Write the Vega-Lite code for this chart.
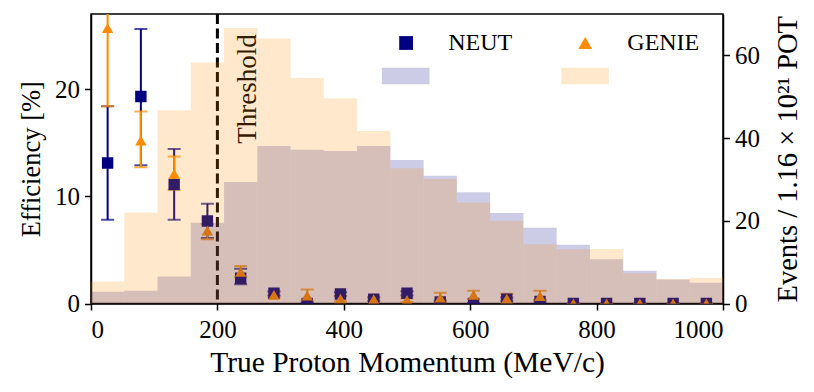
{
  "$schema": "https://vega.github.io/schema/vega-lite/v6.json",
  "width": 632,
  "height": 289.5,
  "autosize": {"type": "none"},
  "padding": {"left": 91, "top": 14, "right": 91, "bottom": 88.5},
  "background": "white",
  "config": {
    "font": "Liberation Serif",
    "view": {"stroke": "black", "strokeWidth": 1.5},
    "axis": {
      "grid": false,
      "domainColor": "black",
      "domainWidth": 1.5,
      "tickColor": "black",
      "tickWidth": 1.5,
      "tickSize": 6.5,
      "labelFont": "Liberation Serif",
      "labelFontSize": 25,
      "labelColor": "black",
      "titleFont": "Liberation Serif",
      "titleFontSize": 28,
      "titleFontWeight": "normal",
      "titleColor": "black"
    },
    "legend": {
      "labelFont": "Liberation Serif",
      "labelFontSize": 24,
      "labelColor": "black",
      "padding": 0
    }
  },
  "datasets": {
    "hist": [
      {"sample": "NEUT events", "lo": 0, "hi": 52.63, "events": 2.85},
      {"sample": "NEUT events", "lo": 52.63, "hi": 105.26, "events": 3.1},
      {"sample": "NEUT events", "lo": 105.26, "hi": 157.89, "events": 6.5},
      {"sample": "NEUT events", "lo": 157.89, "hi": 210.53, "events": 19.5},
      {"sample": "NEUT events", "lo": 210.53, "hi": 263.16, "events": 29.4},
      {"sample": "NEUT events", "lo": 263.16, "hi": 315.79, "events": 38.1},
      {"sample": "NEUT events", "lo": 315.79, "hi": 368.42, "events": 37.2},
      {"sample": "NEUT events", "lo": 368.42, "hi": 421.05, "events": 36.9},
      {"sample": "NEUT events", "lo": 421.05, "hi": 473.68, "events": 38.1},
      {"sample": "NEUT events", "lo": 473.68, "hi": 526.32, "events": 34.7},
      {"sample": "NEUT events", "lo": 526.32, "hi": 578.95, "events": 30.9},
      {"sample": "NEUT events", "lo": 578.95, "hi": 631.58, "events": 26.9},
      {"sample": "NEUT events", "lo": 631.58, "hi": 684.21, "events": 21.9},
      {"sample": "NEUT events", "lo": 684.21, "hi": 736.84, "events": 18.3},
      {"sample": "NEUT events", "lo": 736.84, "hi": 789.47, "events": 14.2},
      {"sample": "NEUT events", "lo": 789.47, "hi": 842.11, "events": 10.7},
      {"sample": "NEUT events", "lo": 842.11, "hi": 894.74, "events": 7.9},
      {"sample": "NEUT events", "lo": 894.74, "hi": 947.37, "events": 5.8},
      {"sample": "NEUT events", "lo": 947.37, "hi": 1000, "events": 5.0},
      {"sample": "GENIE events", "lo": 0, "hi": 52.63, "events": 5.3},
      {"sample": "GENIE events", "lo": 52.63, "hi": 105.26, "events": 22.0},
      {"sample": "GENIE events", "lo": 105.26, "hi": 157.89, "events": 46.7},
      {"sample": "GENIE events", "lo": 157.89, "hi": 210.53, "events": 58.3},
      {"sample": "GENIE events", "lo": 210.53, "hi": 263.16, "events": 66.6},
      {"sample": "GENIE events", "lo": 263.16, "hi": 315.79, "events": 64.1},
      {"sample": "GENIE events", "lo": 315.79, "hi": 368.42, "events": 54.6},
      {"sample": "GENIE events", "lo": 368.42, "hi": 421.05, "events": 49.6},
      {"sample": "GENIE events", "lo": 421.05, "hi": 473.68, "events": 41.7},
      {"sample": "GENIE events", "lo": 473.68, "hi": 526.32, "events": 32.7},
      {"sample": "GENIE events", "lo": 526.32, "hi": 578.95, "events": 30.1},
      {"sample": "GENIE events", "lo": 578.95, "hi": 631.58, "events": 24.4},
      {"sample": "GENIE events", "lo": 631.58, "hi": 684.21, "events": 20.0},
      {"sample": "GENIE events", "lo": 684.21, "hi": 736.84, "events": 14.3},
      {"sample": "GENIE events", "lo": 736.84, "hi": 789.47, "events": 13.1},
      {"sample": "GENIE events", "lo": 789.47, "hi": 842.11, "events": 13.2},
      {"sample": "GENIE events", "lo": 842.11, "hi": 894.74, "events": 7.3},
      {"sample": "GENIE events", "lo": 894.74, "hi": 947.37, "events": 5.9},
      {"sample": "GENIE events", "lo": 947.37, "hi": 1000, "events": 6.2}
    ],
    "eff": [
      {"model": "NEUT", "p": 26.3, "eff": 13.1, "lo": 7.8, "hi": 18.4},
      {"model": "NEUT", "p": 78.9, "eff": 19.3, "lo": 12.9, "hi": 25.6},
      {"model": "NEUT", "p": 131.6, "eff": 11.1, "lo": 7.8, "hi": 14.4},
      {"model": "NEUT", "p": 184.2, "eff": 7.7, "lo": 6.1, "hi": 9.3},
      {"model": "NEUT", "p": 236.8, "eff": 2.35, "lo": 1.8, "hi": 3.25},
      {"model": "NEUT", "p": 289.5, "eff": 0.95, "lo": 0.75, "hi": 1.15},
      {"model": "NEUT", "p": 342.1, "eff": 0.0, "lo": 0.0, "hi": 0.1},
      {"model": "NEUT", "p": 394.7, "eff": 0.88, "lo": 0.7, "hi": 1.05},
      {"model": "NEUT", "p": 447.4, "eff": 0.4, "lo": 0.25, "hi": 0.55},
      {"model": "NEUT", "p": 500.0, "eff": 0.95, "lo": 0.75, "hi": 1.15},
      {"model": "NEUT", "p": 552.6, "eff": 0.15, "lo": 0.05, "hi": 0.25},
      {"model": "NEUT", "p": 605.3, "eff": 0.0, "lo": 0.0, "hi": 0.0},
      {"model": "NEUT", "p": 657.9, "eff": 0.4, "lo": 0.25, "hi": 0.55},
      {"model": "NEUT", "p": 710.5, "eff": 0.2, "lo": 0.1, "hi": 0.3},
      {"model": "NEUT", "p": 763.2, "eff": 0.0, "lo": 0.0, "hi": 0.0},
      {"model": "NEUT", "p": 815.8, "eff": 0.0, "lo": 0.0, "hi": 0.0},
      {"model": "NEUT", "p": 868.4, "eff": 0.0, "lo": 0.0, "hi": 0.0},
      {"model": "NEUT", "p": 921.1, "eff": 0.0, "lo": 0.0, "hi": 0.0},
      {"model": "NEUT", "p": 973.7, "eff": 0.0, "lo": 0.0, "hi": 0.0},
      {"model": "GENIE", "p": 26.3, "eff": 25.7, "lo": 18.4, "hi": 33.0},
      {"model": "GENIE", "p": 78.9, "eff": 15.2, "lo": 12.7, "hi": 17.9},
      {"model": "GENIE", "p": 131.6, "eff": 12.1, "lo": 10.6, "hi": 13.7},
      {"model": "GENIE", "p": 184.2, "eff": 6.8, "lo": 6.0, "hi": 7.4},
      {"model": "GENIE", "p": 236.8, "eff": 2.95, "lo": 2.45, "hi": 3.5},
      {"model": "GENIE", "p": 289.5, "eff": 0.8, "lo": 0.55, "hi": 1.05},
      {"model": "GENIE", "p": 342.1, "eff": 0.75, "lo": 0.25, "hi": 1.3},
      {"model": "GENIE", "p": 394.7, "eff": 0.45, "lo": 0.2, "hi": 0.7},
      {"model": "GENIE", "p": 447.4, "eff": 0.4, "lo": 0.2, "hi": 0.6},
      {"model": "GENIE", "p": 500.0, "eff": 0.33, "lo": 0.15, "hi": 0.5},
      {"model": "GENIE", "p": 552.6, "eff": 0.55, "lo": 0.1, "hi": 1.0},
      {"model": "GENIE", "p": 605.3, "eff": 0.8, "lo": 0.4, "hi": 1.2},
      {"model": "GENIE", "p": 657.9, "eff": 0.45, "lo": 0.05, "hi": 0.9},
      {"model": "GENIE", "p": 710.5, "eff": 0.7, "lo": 0.25, "hi": 1.2},
      {"model": "GENIE", "p": 763.2, "eff": 0.0, "lo": 0.0, "hi": 0.0},
      {"model": "GENIE", "p": 815.8, "eff": 0.0, "lo": 0.0, "hi": 0.0},
      {"model": "GENIE", "p": 868.4, "eff": 0.0, "lo": 0.0, "hi": 0.0},
      {"model": "GENIE", "p": 921.1, "eff": 0.0, "lo": 0.0, "hi": 0.0},
      {"model": "GENIE", "p": 973.7, "eff": 0.0, "lo": 0.0, "hi": 0.0}
    ],
    "anno": [{"label": "Threshold", "p": 200}]
  },
  "layer": [
    {
      "layer": [
        {
          "data": {"name": "anno"},
          "mark": {"type": "rule", "color": "black", "strokeWidth": 3, "strokeDash": [10, 4.5]},
          "encoding": {
            "x": {
              "field": "p", "type": "quantitative",
              "scale": {"domain": [0, 1000], "nice": false},
              "axis": {"title": "True Proton Momentum (MeV/c)", "values": [0, 200, 400, 600, 800, 1000], "format": "d", "labelPadding": 7, "titlePadding": 6, "titleFontSize": 29.5}
            }
          }
        },
        {
          "data": {"name": "anno"},
          "mark": {"type": "text", "angle": 270, "align": "left", "baseline": "alphabetic", "fontSize": 27, "color": "black"},
          "encoding": {
            "x": {
              "datum": 260.5, "type": "quantitative",
              "scale": {"domain": [0, 1000], "nice": false},
              "axis": {"title": "True Proton Momentum (MeV/c)", "values": [0, 200, 400, 600, 800, 1000], "format": "d", "labelPadding": 7, "titlePadding": 6, "titleFontSize": 29.5}
            },
            "y": {
              "datum": 14.9, "type": "quantitative",
              "scale": {"domain": [0, 27], "nice": false},
              "axis": {"title": "Efficiency [%]", "values": [0, 10, 20], "labelPadding": 5, "titlePadding": 9, "titleFontSize": 26.5}
            },
            "text": {"field": "label"}
          }
        },
        {
          "data": {"name": "eff"},
          "encoding": {
            "x": {
              "field": "p", "type": "quantitative",
              "scale": {"domain": [0, 1000], "nice": false},
              "axis": {"title": "True Proton Momentum (MeV/c)", "values": [0, 200, 400, 600, 800, 1000], "format": "d", "labelPadding": 7, "titlePadding": 6, "titleFontSize": 29.5}
            },
            "y": {
              "field": "eff", "type": "quantitative",
              "scale": {"domain": [0, 27], "nice": false},
              "axis": {"title": "Efficiency [%]", "values": [0, 10, 20], "labelPadding": 5, "titlePadding": 9, "titleFontSize": 26.5}
            }
          },
          "layer": [
            {
              "transform": [{"filter": "datum.model === 'NEUT'"}],
              "mark": {"type": "rule", "strokeWidth": 2, "color": "#000080", "clip": true},
              "encoding": {"y": {"field": "lo", "type": "quantitative"}, "y2": {"field": "hi"}}
            },
            {
              "transform": [{"filter": "datum.model === 'NEUT'"}],
              "mark": {"type": "tick", "orient": "horizontal", "size": 13, "thickness": 2, "color": "#000080", "clip": true},
              "encoding": {"y": {"field": "lo", "type": "quantitative"}}
            },
            {
              "transform": [{"filter": "datum.model === 'NEUT'"}],
              "mark": {"type": "tick", "orient": "horizontal", "size": 13, "thickness": 2, "color": "#000080", "clip": true},
              "encoding": {"y": {"field": "hi", "type": "quantitative"}}
            },
            {
              "transform": [{"filter": "datum.model === 'GENIE'"}],
              "mark": {"type": "rule", "strokeWidth": 2, "color": "#ff8c00", "clip": true},
              "encoding": {"y": {"field": "lo", "type": "quantitative"}, "y2": {"field": "hi"}}
            },
            {
              "transform": [{"filter": "datum.model === 'GENIE'"}],
              "mark": {"type": "tick", "orient": "horizontal", "size": 13, "thickness": 2, "color": "#ff8c00", "clip": true},
              "encoding": {"y": {"field": "lo", "type": "quantitative"}}
            },
            {
              "transform": [{"filter": "datum.model === 'GENIE'"}],
              "mark": {"type": "tick", "orient": "horizontal", "size": 13, "thickness": 2, "color": "#ff8c00", "clip": true},
              "encoding": {"y": {"field": "hi", "type": "quantitative"}}
            },
            {
              "mark": {"type": "point", "filled": true, "opacity": 1, "size": 130, "clip": true},
              "encoding": {
                "color": {
                  "field": "model", "type": "nominal",
                  "scale": {"domain": ["NEUT", "GENIE"], "range": ["#000080", "#ff8c00"]},
                  "legend": {"title": null, "orient": "none", "legendX": 303.1, "legendY": 17, "direction": "horizontal", "symbolSize": 190, "symbolStrokeWidth": 0, "labelOffset": 30.1, "columnPadding": 60.1, "labelFontSize": 24}
                },
                "shape": {
                  "field": "model", "type": "nominal",
                  "scale": {"domain": ["NEUT", "GENIE"], "range": ["square", "triangle-up"]},
                  "legend": {"title": null, "orient": "none", "legendX": 303.1, "legendY": 17, "direction": "horizontal", "symbolSize": 190, "symbolStrokeWidth": 0, "labelOffset": 30.1, "columnPadding": 60.1, "labelFontSize": 24}
                }
              }
            }
          ]
        }
      ]
    },
    {
      "data": {"name": "hist"},
      "mark": {"type": "bar", "fillOpacity": 0.2, "strokeWidth": 0},
      "encoding": {
        "x": {
          "field": "lo", "type": "quantitative",
          "scale": {"domain": [0, 1000], "nice": false},
          "axis": {"title": "True Proton Momentum (MeV/c)", "values": [0, 200, 400, 600, 800, 1000], "format": "d", "labelPadding": 7, "titlePadding": 6, "titleFontSize": 29.5}
        },
        "x2": {"field": "hi"},
        "y": {
          "field": "events", "type": "quantitative",
          "scale": {"domain": [0, 70], "nice": false},
          "axis": {"orient": "right", "title": "Events / 1.16 × 10²¹ POT", "values": [0, 20, 40, 60], "labelPadding": 5, "titleAngle": 270, "titleBaseline": "top", "titlePadding": 14, "titleFontSize": 28.5}
        },
        "y2": {"datum": 0},
        "fill": {
          "field": "sample", "type": "nominal",
          "scale": {"domain": ["NEUT events", "GENIE events"], "range": ["#000080", "#ff8c00"]},
          "legend": {"title": null, "orient": "none", "legendX": 290.7, "legendY": 38, "direction": "horizontal", "symbolType": "M-1,-0.35H1V0.35H-1Z", "symbolSize": 2266, "symbolOpacity": 0.2, "symbolStrokeWidth": 0, "labelExpr": "''", "labelOffset": 0, "columnPadding": 131.4}
        }
      }
    }
  ],
  "resolve": {"scale": {"y": "independent"}}
}
